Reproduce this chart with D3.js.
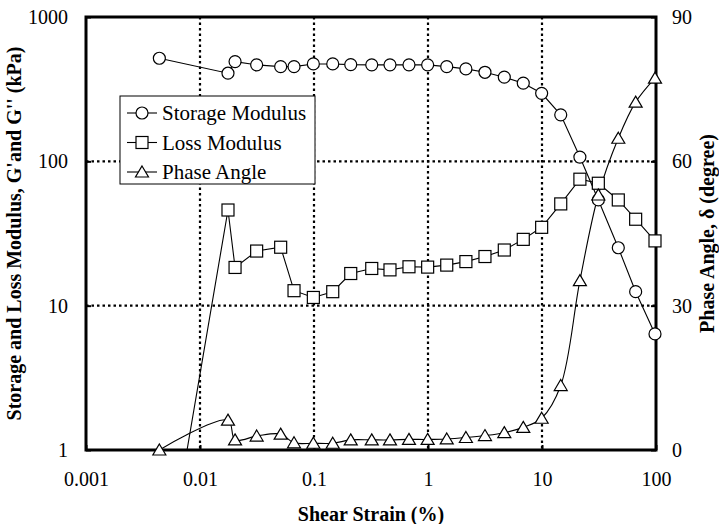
<!DOCTYPE html>
<html>
<head>
<meta charset="utf-8">
<script src="https://cdn.jsdelivr.net/npm/d3@7"></script>
<style>
body { margin: 0; background: #fff; }
svg text { font-family: "Times New Roman", Tinos, "Liberation Serif", Times, serif; fill: #000; }
</style>
</head>
<body>
<svg id="chart" width="719" height="524"></svg>
<script>
// shear strain (%) for every test step
const strain = [0.0044, 0.0176, 0.0203, 0.0314, 0.051, 0.0668, 0.0987, 0.146, 0.21, 0.321,
  0.464, 0.681, 0.993, 1.46, 2.15, 3.16, 4.67, 6.85, 9.93, 14.6, 21.5, 31.2, 46.7, 66.3, 98]
// G' (kPa)
const storage = [518, 408, 491, 466, 453, 453, 473, 473, 468, 466,
  466, 466, 466, 453, 437, 414, 383, 348, 296, 210, 107, 54, 25.2, 12.5, 6.37]
// G'' (kPa), first one lies below the axis
const loss = [0.075, 46.0, 18.4, 23.9, 25.4, 12.7, 11.4, 12.5, 16.7, 18.1,
  17.7, 18.6, 18.5, 19.1, 20.2, 21.9, 24.3, 28.8, 34.9, 50.7, 75.2, 70.5, 54.0, 39.7, 28.1]
// phase angle (degree)
const phase = [0, 6.2, 2.1, 2.9, 3.3, 1.5, 1.4, 1.4, 2.1, 2.1,
  2.1, 2.2, 2.2, 2.3, 2.6, 3.0, 3.6, 4.7, 6.6, 13.4, 35.2, 53.0, 64.8, 72.3, 77.3]

const xTicks = [0.001, 0.01, 0.1, 1, 10, 100]
const yTicks = [1, 10, 100, 1000]
const y2Ticks = [0, 30, 60, 90]
const seriesNames = ['Storage Modulus', 'Loss Modulus', 'Phase Angle']

const FONT = '"Times New Roman", Tinos, "Liberation Serif", Times, serif'

const svg = d3.select('#chart')
const margin = {top: 17, right: 63, bottom: 74, left: 86}
const W = 719 - margin.left - margin.right
const H = 524 - margin.top - margin.bottom

const x = d3.scaleLog().domain([0.001, 100]).range([0, W])
const y = d3.scaleLog().domain([1, 1000]).range([H, 0])
const y2 = d3.scaleLinear().domain([0, 90]).range([H, 0])

const g = svg.append('g').attr('transform', `translate(${margin.left},${margin.top})`)

svg.append('defs').append('clipPath').attr('id', 'plotClip')
  .append('rect').attr('width', W).attr('height', H)

// dotted grid
g.selectAll('.vgrid').data(xTicks.slice(1, -1)).enter().append('line')
  .attr('x1', d => x(d)).attr('x2', d => x(d)).attr('y1', 0).attr('y2', H)
  .attr('stroke', '#000').attr('stroke-width', 2.2).attr('stroke-dasharray', '2.5,3')
g.selectAll('.hgrid').data(yTicks.slice(1, -1)).enter().append('line')
  .attr('x1', 0).attr('x2', W).attr('y1', d => y(d)).attr('y2', d => y(d))
  .attr('stroke', '#000').attr('stroke-width', 2.2).attr('stroke-dasharray', '2.5,3')

// axes
const xAxis = g.append('g').attr('transform', `translate(0,${H})`)
  .call(d3.axisBottom(x).tickValues(xTicks).tickFormat(d => String(d)).tickSizeInner(-5).tickSizeOuter(0).tickPadding(22))
const yAxis = g.append('g')
  .call(d3.axisLeft(y).tickValues(yTicks).tickFormat(d => String(d)).tickSizeInner(-5).tickSizeOuter(0).tickPadding(18))
const y2Axis = g.append('g').attr('transform', `translate(${W},0)`)
  .call(d3.axisRight(y2).tickValues(y2Ticks).tickSizeInner(-5).tickSizeOuter(0).tickPadding(16))

for (const a of [xAxis, yAxis, y2Axis]) {
  a.attr('font-family', null).attr('font-size', null)
  a.select('.domain').remove()
  a.selectAll('.tick line').attr('stroke', '#000').attr('stroke-width', 2)
  a.selectAll('.tick text').style('font-size', '20px').style('font-family', FONT)
}
xAxis.selectAll('.tick text').attr('dy', '0.71em')

// frame
g.append('rect').attr('width', W).attr('height', H)
  .attr('fill', 'none').attr('stroke', '#000').attr('stroke-width', 3)

const series = [
  {vals: storage, yy: y, shape: 'circle', curve: d3.curveLinear},
  {vals: loss, yy: y, shape: 'square', curve: d3.curveLinear},
  {vals: phase, yy: y2, shape: 'triangle', curve: d3.curveCatmullRom.alpha(0.5)}
]

const drawMarker = (sel, shape) => {
  if (shape === 'circle') {
    sel.append('circle').attr('r', 6)
  } else if (shape === 'square') {
    sel.append('rect').attr('x', -6).attr('y', -6).attr('width', 12).attr('height', 12)
  } else {
    sel.append('path').attr('d', 'M0,-6L6.5,5L-6.5,5Z')
  }
  sel.selectAll('circle,rect,path').attr('fill', '#fff').attr('stroke', '#000').attr('stroke-width', 1.2)
}

const plot = g.append('g').attr('clip-path', 'url(#plotClip)')

series.forEach(s => {
  const pts = strain.map((d, i) => [x(d), s.yy(s.vals[i])])
  plot.append('path')
    .attr('d', d3.line().curve(s.curve)(pts))
    .attr('fill', 'none').attr('stroke', '#000').attr('stroke-width', 1.1)
})
series.forEach(s => {
  strain.forEach((d, i) => {
    const py = s.yy(s.vals[i])
    if (py > H + 8) return
    const m = g.append('g').attr('transform', `translate(${x(d)},${py})`)
    drawMarker(m, s.shape)
  })
})

// legend
const lg = svg.append('g').attr('transform', 'translate(120,96)')
lg.append('rect').attr('width', 195).attr('height', 88)
  .attr('fill', '#fff').attr('stroke', '#000').attr('stroke-width', 1)
seriesNames.forEach((name, i) => {
  const row = lg.append('g').attr('transform', `translate(0,${17 + i * 29.5})`)
  row.append('line').attr('x1', 7).attr('x2', 37).attr('stroke', '#000').attr('stroke-width', 1.1)
  const m = row.append('g').attr('transform', 'translate(22,0)')
  drawMarker(m, series[i].shape)
  row.append('text').attr('x', 42).attr('dy', '0.35em')
    .style('font-size', '21px').style('font-family', FONT).text(name)
})

// axis titles
const title = (sel) => sel.attr('text-anchor', 'middle')
  .style('font-size', '20px').style('font-weight', 'bold').style('font-family', FONT)

svg.append('text')
  .attr('x', margin.left + W / 2).attr('y', 521)
  .call(title).text('Shear Strain (%)')
svg.append('text')
  .attr('transform', `translate(21,${margin.top + H / 2}) rotate(-90)`)
  .call(title).text("Storage and Loss Modulus, G'and G''  (kPa)")
svg.append('text')
  .attr('transform', `translate(714,${margin.top + H / 2}) rotate(-90)`)
  .call(title).text('Phase Angle, δ (degree)')
</script>
</body>
</html>
